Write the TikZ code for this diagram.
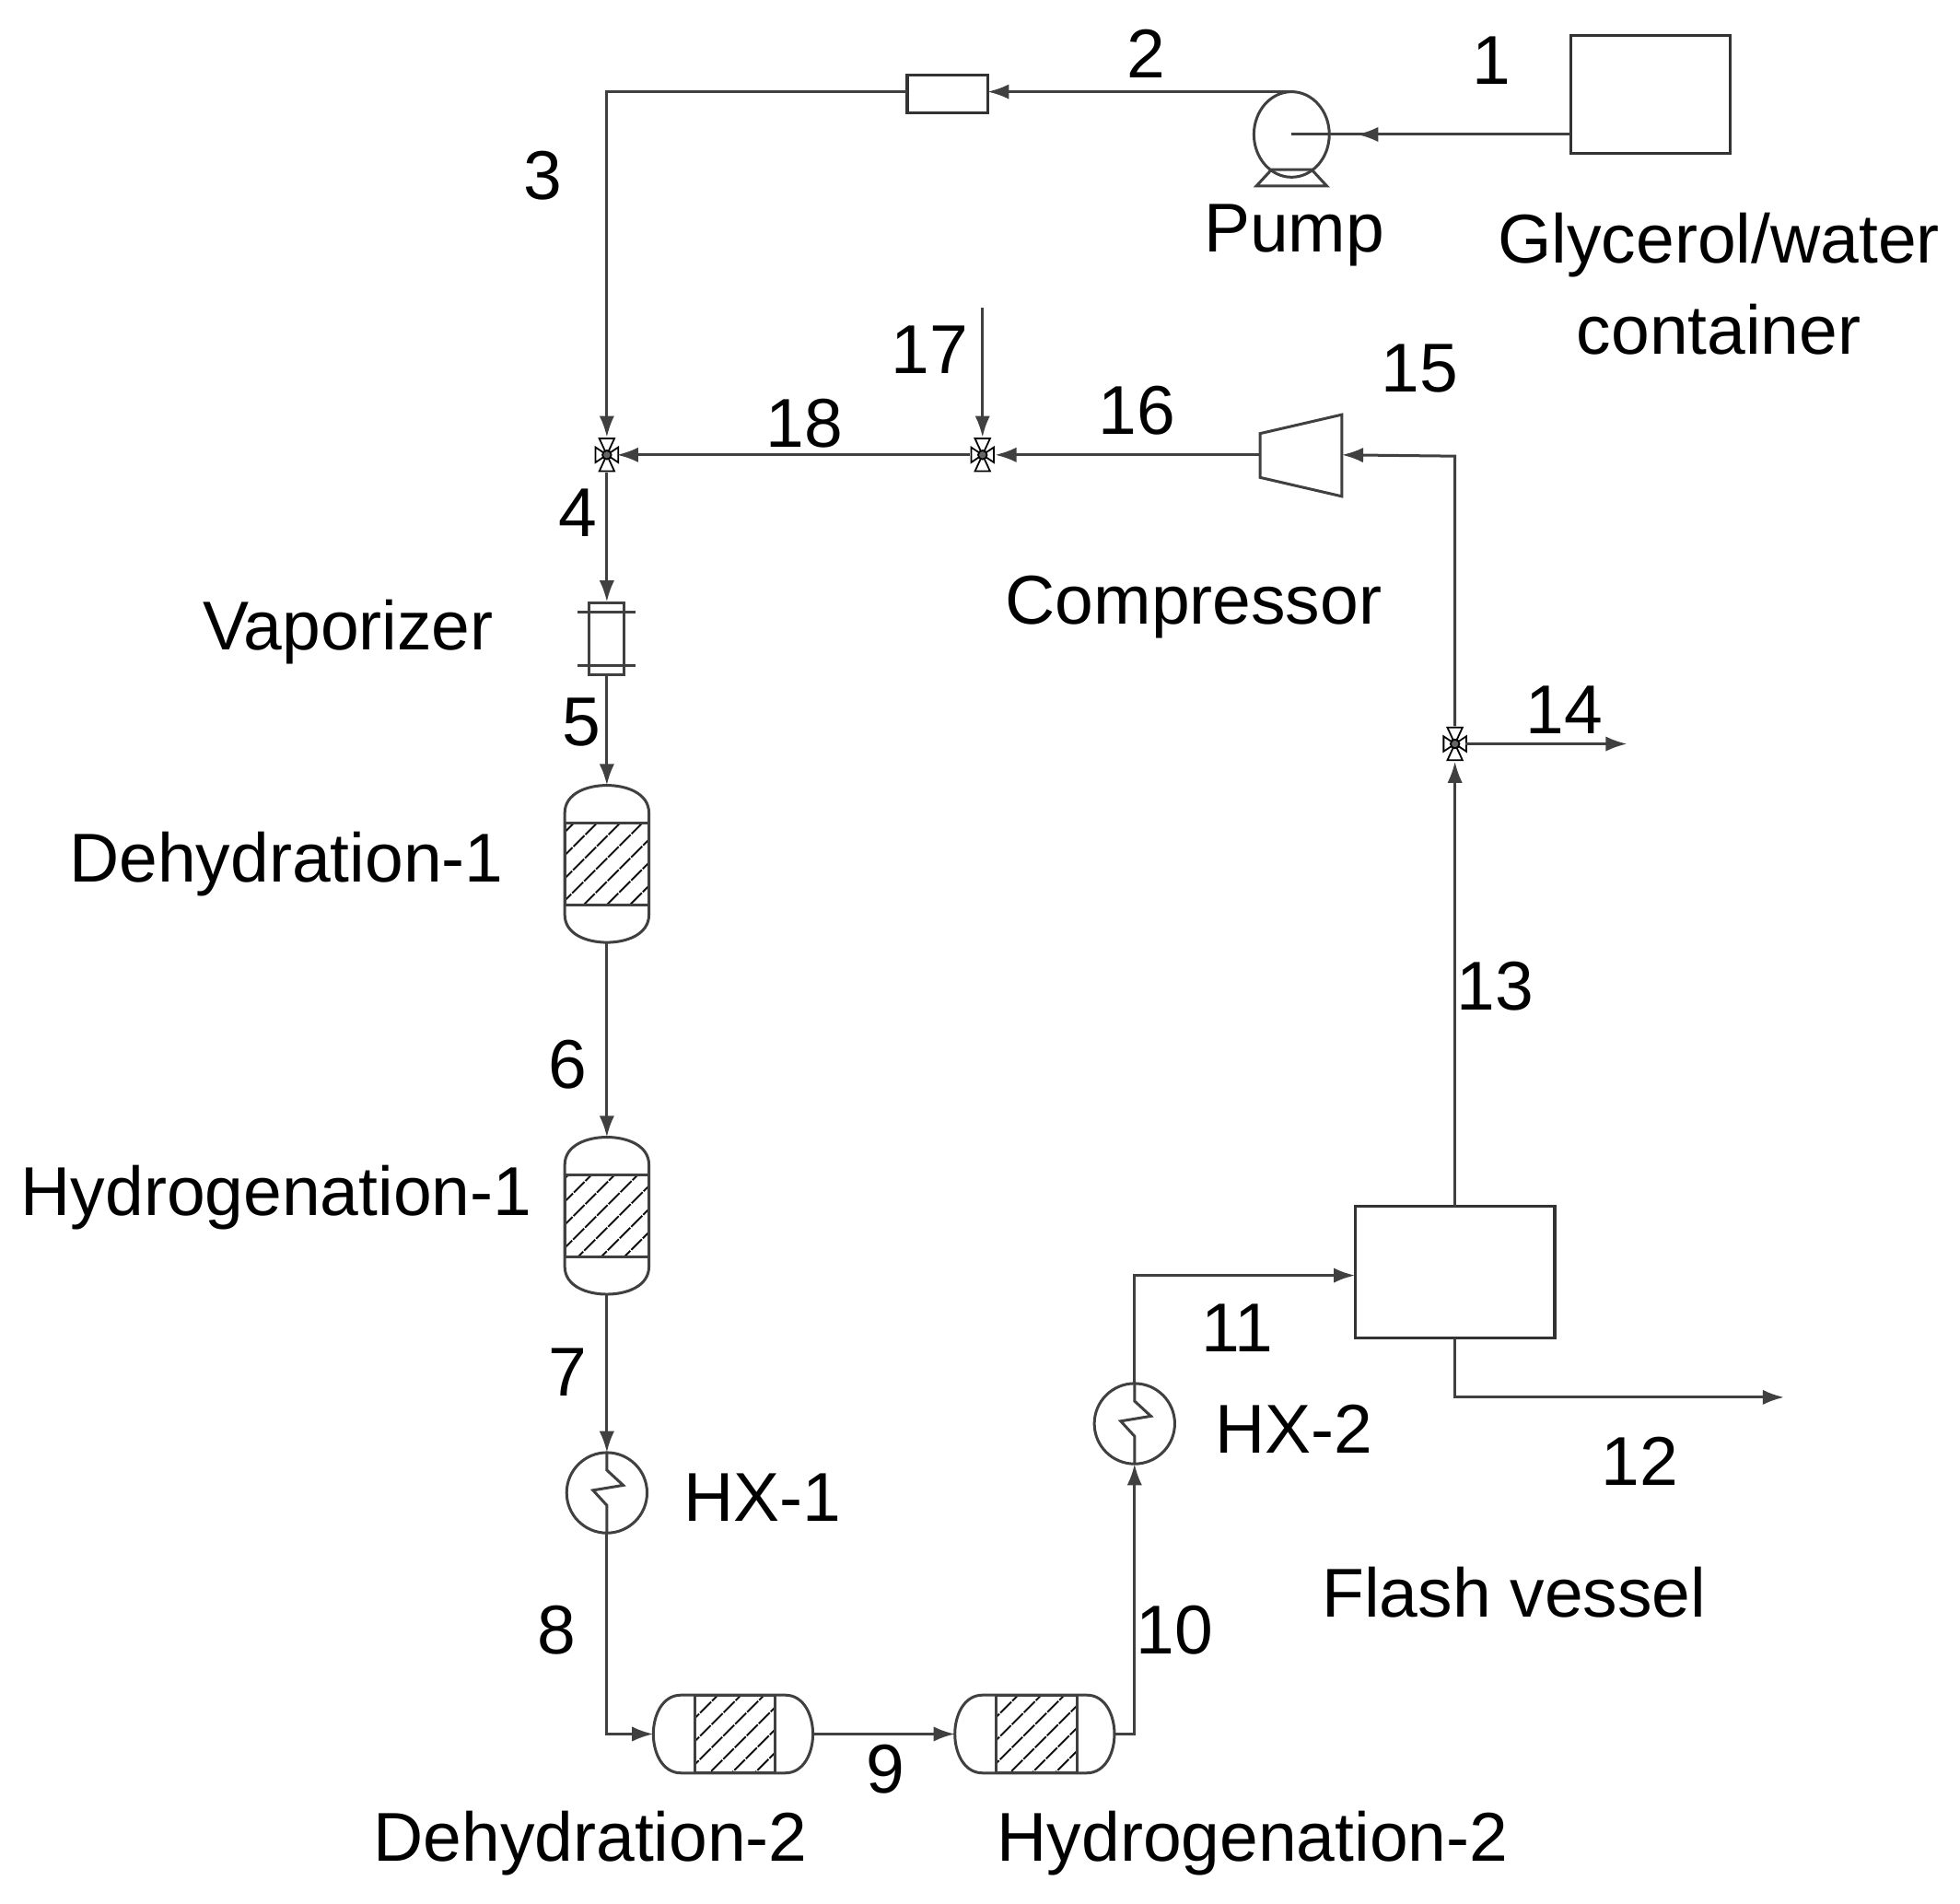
\documentclass[tikz,border=0pt]{standalone}
\usepackage{fontspec}
\setmainfont{Liberation Sans}
\usetikzlibrary{arrows.meta,patterns.meta}
\begin{document}
\begin{tikzpicture}[x=1pt,y=-1pt,
  ln/.style={line width=2.2pt,draw=black!75},
  fl/.style={ln,-{Latex[length=17pt,width=12pt]}},
  lab/.style={font=\fontsize{55}{64}\selectfont,inner sep=0pt},
  box/.style={draw=none,inner sep=0pt,outer sep=0pt},
  hatch/.style={pattern={Lines[angle=45,distance=13pt,line width=1.5pt]}}]
\useasboundingbox (0,0) rectangle (1560,1515);
\fill[white] (0,0) rectangle (1560,1515);
% equipment nodes
\node[box,draw=black!80,line width=2.4pt,minimum width=127,minimum height=94] (cont) at (1313.5,75) {};
\node[box,minimum width=60,minimum height=68] (pump) at (1028,107) {};
\draw[ln] (1028,107) ellipse (30 and 34);
\draw[ln] (1000,148) -- (1056,148) -- (1044,135) -- (1012,135) -- cycle;
\node[box,draw=black!80,line width=2.4pt,minimum width=64,minimum height=30] (heat) at (754,75) {};
\node[box,minimum width=16,minimum height=28] (v4) at (483,362) {};
\node[box,minimum width=20,minimum height=28] (v18) at (782,362) {};
\node[box,minimum width=16,minimum height=28] (v14) at (1158,592) {};
\foreach \v in {v4,v18,v14}{
  \draw[line width=1.3pt] (\v.center) -- ++(-6,-13) -- ++(12,0) -- cycle;
  \draw[line width=1.3pt] (\v.center) -- ++(-6,13) -- ++(12,0) -- cycle;
  \draw[line width=1.3pt] (\v.center) -- ++(9,-6) -- ++(0,12) -- cycle;
  \draw[line width=1.3pt] (\v.center) -- ++(-9,-6) -- ++(0,12) -- cycle;
  \draw[line width=1.3pt,fill=black!60] (\v.center) circle (3.5);}
\node[box,minimum width=65,minimum height=65] (comp) at (1035.5,362) {};
\draw[ln] (1003,345) -- (1068,330) -- (1068,395) -- (1003,380) -- cycle;
\node[box,minimum width=30,minimum height=58] (vap) at (483,508) {};
\draw[ln] (469,480) rectangle (497,537);
\draw[ln] (460,487) -- (506,487) (460,530) -- (506,530);
% vertical reactors
\newcommand\vreac[3]{% name, center x, top y
  \node[box,minimum width=67,minimum height=125] (#1) at (#2,#3+62.5) {};
  \draw[ln] (#2-33.5,#3+22) to[out=90,in=180] (#2,#3) to[out=0,in=90] (#2+33.5,#3+22)
    -- (#2+33.5,#3+103) to[out=-90,in=0] (#2,#3+125) to[out=180,in=-90] (#2-33.5,#3+103) -- cycle;
  \draw[ln,hatch] (#2-33.5,#3+30) rectangle (#2+33.5,#3+95);}
\vreac{d1}{483}{625}
\vreac{h1}{483}{905}
\newcommand\hreac[3]{% name, left x, center y
  \node[box,minimum width=127,minimum height=62] (#1) at (#2+63.5,#3) {};
  \draw[ln] (#2+22,#3-31) to[out=180,in=90] (#2,#3) to[out=-90,in=180] (#2+22,#3+31)
    -- (#2+105,#3+31) to[out=0,in=-90] (#2+127,#3) to[out=90,in=0] (#2+105,#3-31) -- cycle;
  \draw[ln,hatch] (#2+33,#3-31) rectangle (#2+97,#3+31);}
\hreac{d2}{520}{1380}
\hreac{h2}{760}{1380}
\node[box,minimum width=64,minimum height=64] (hx1) at (483,1188) {};
\node[box,minimum width=64,minimum height=64] (hx2) at (903,1133) {};
\foreach \h in {hx1,hx2}{
  \draw[ln] (\h.center) circle (32);
  \draw[ln] (\h.center) ++(0,-32) -- ++(0,14) -- ++(13,12) -- ++(-24,4) -- ++(11,12) -- ++(0,22);}
\node[box,draw=black!80,line width=2.4pt,minimum width=159,minimum height=105] (flash) at (1158,1012.5) {};
% connectors
\coordinate (c3) at (483,73);
\coordinate (c17) at (782,245);
\coordinate (c15) at (1158,363);
\coordinate (c14) at (1295,592);
\coordinate (c8) at (483,1380);
\coordinate (c10) at (903,1380);
\coordinate (c11) at (903,1015);
\coordinate (c12a) at (1158,1112);
\coordinate (c12) at (1420,1112);
\coordinate (p2) at (1028,73);
\draw[ln] (cont.west |- 0,107) -- (1028,107);
\draw[fl] (cont.west |- 0,107) -- (1080,107);
\draw[fl] (p2) -- (heat.east |- p2);
\draw[fl] (heat.west |- p2) -- (c3) -- (v4.north);
\draw[fl] (v4.south) -- (vap.north);
\draw[fl] (vap.south) -- (d1.north);
\draw[fl] (d1.south) -- (h1.north);
\draw[fl] (h1.south) -- (hx1.north);
\draw[fl] (hx1.south) -- (c8) -- (d2.west);
\draw[fl] (d2.east) -- (h2.west);
\draw[fl] (h2.east) -- (c10) -- (hx2.south);
\draw[fl] (hx2.north) -- (c11) -- (flash.west |- c11);
\draw[fl] (flash.south) -- (c12a) -- (c12);
\draw[fl] (flash.north) -- (v14.south);
\draw[fl] (v14.east) -- (c14);
\draw[fl] (v14.north) -- (c15) -- (comp.east);
\draw[fl] (comp.west) -- (v18.east);
\draw[fl] (c17) -- (v18.north);
\draw[fl] (v18.west) -- (v4.east);
% labels
\node[lab] at (1187,48) {1};
\node[lab] at (912,43) {2};
\node[lab] at (432,140) {3};
\node[lab] at (1030,187) {Pump};
\node[lab] at (1368,195) {Glycerol/water};
\node[lab] at (1368,262) {container};
\node[lab] at (740,278) {17};
\node[lab] at (640,337) {18};
\node[lab] at (905,327) {16};
\node[lab] at (1130,293) {15};
\node[lab] at (460,408) {4};
\node[lab] at (950,483) {Compressor};
\node[lab] at (277,503) {Vaporizer};
\node[lab] at (463,575) {5};
\node[lab] at (1245,565) {14};
\node[lab] at (228,688) {Dehydration-1};
\node[lab] at (1190,785) {13};
\node[lab] at (452,847) {6};
\node[lab] at (220,953) {Hydrogenation-1};
\node[lab] at (985,1057) {11};
\node[lab] at (452,1092) {7};
\node[lab] at (1030,1137) {HX-2};
\node[lab] at (607,1192) {HX-1};
\node[lab] at (1305,1163) {12};
\node[lab] at (1205,1267) {Flash vessel};
\node[lab] at (443,1297) {8};
\node[lab] at (935,1297) {10};
\node[lab] at (705,1408) {9};
\node[lab] at (470,1467) {Dehydration-2};
\node[lab] at (997,1467) {Hydrogenation-2};
\end{tikzpicture}
\end{document}
